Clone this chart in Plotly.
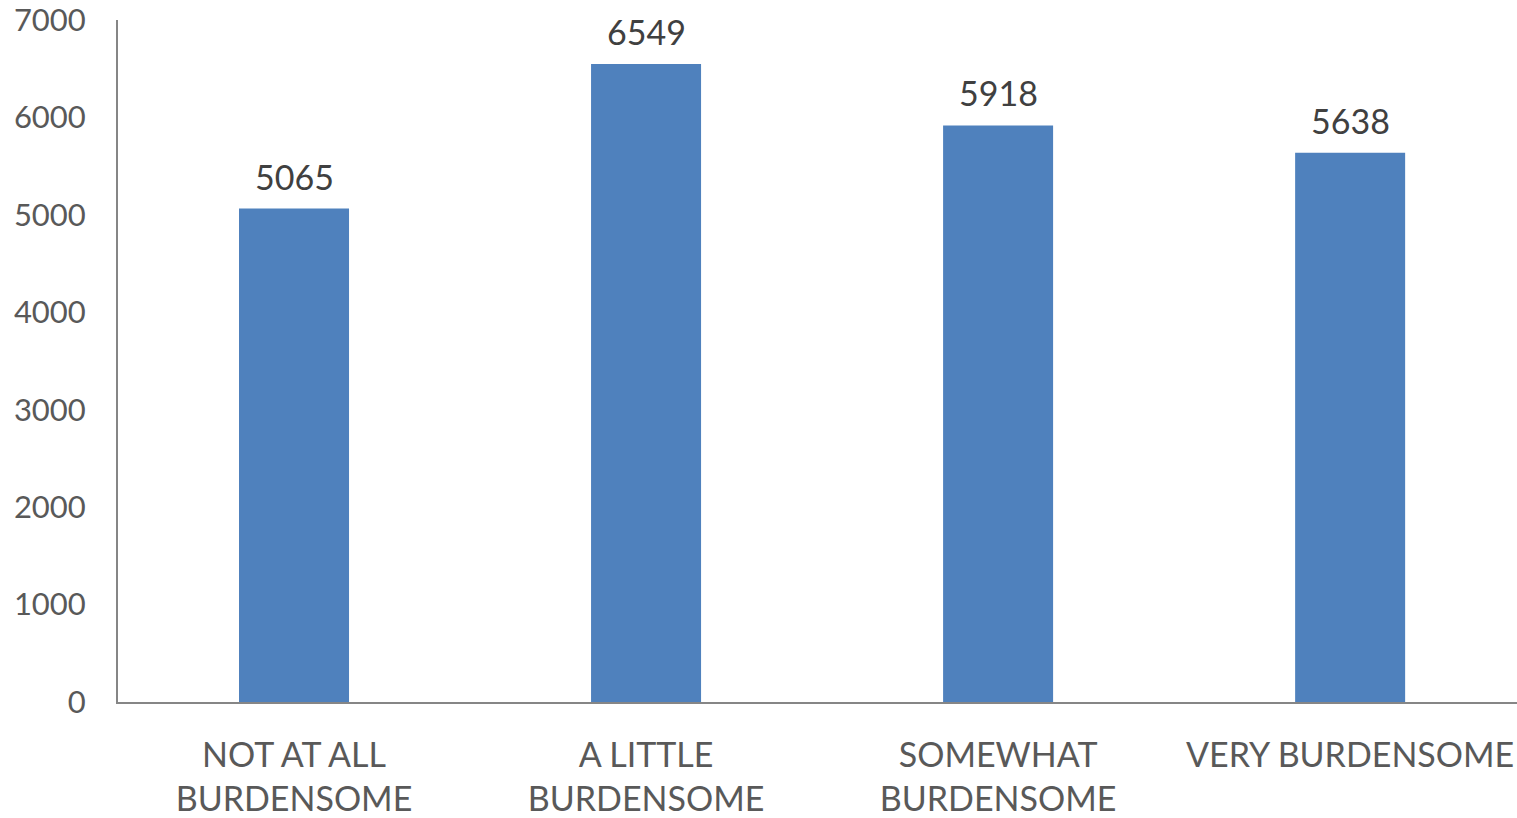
import plotly.graph_objects as go

categories = ["NOT AT ALL<br>BURDENSOME", "A LITTLE<br>BURDENSOME", "SOMEWHAT<br>BURDENSOME", "VERY BURDENSOME"]
values = [5065, 6549, 5918, 5638]
y_ticks = [0, 1000, 2000, 3000, 4000, 5000, 6000, 7000]

FONT = "Lato"

fig = go.Figure(go.Bar(
    x=categories, y=values,
    marker=dict(color="#4F81BD", line=dict(width=0)),
    cliponaxis=False,
))

for c, v in zip(categories, values):
    fig.add_annotation(
        x=c, y=v, text=str(v), showarrow=False,
        yanchor="bottom", yshift=10,
        font=dict(family=FONT, size=34, color="#404040"),
    )

fig.update_layout(
    width=1517, height=818,
    margin=dict(l=118, r=0, t=20, b=116, pad=0),
    paper_bgcolor="white", plot_bgcolor="white",
    bargap=0.6875,
    showlegend=False,
    font=dict(family=FONT, color="#595959"),
)
fig.update_yaxes(
    range=[0, 7000], tickvals=y_ticks, ticktext=[str(t) for t in y_ticks],
    showgrid=False, zeroline=False, automargin=False,
    showline=True, linecolor="#868686", linewidth=2,
    ticks="", ticklabelstandoff=24, ticklabeloverflow="allow",
    tickfont=dict(family=FONT, size=31, color="#595959"),
)
fig.update_xaxes(
    range=[-0.5, 3.474],
    showgrid=False, showline=True, linecolor="#868686", linewidth=2,
    ticks="", ticklabelstandoff=22, automargin=False, ticklabeloverflow="allow",
    tickfont=dict(family=FONT, size=34, color="#595959"),
)

fig.write_html(
    "out.html",
    config={"displayModeBar": False},
    post_script="document.body.style.margin='0';document.body.style.overflow='hidden';",
)
